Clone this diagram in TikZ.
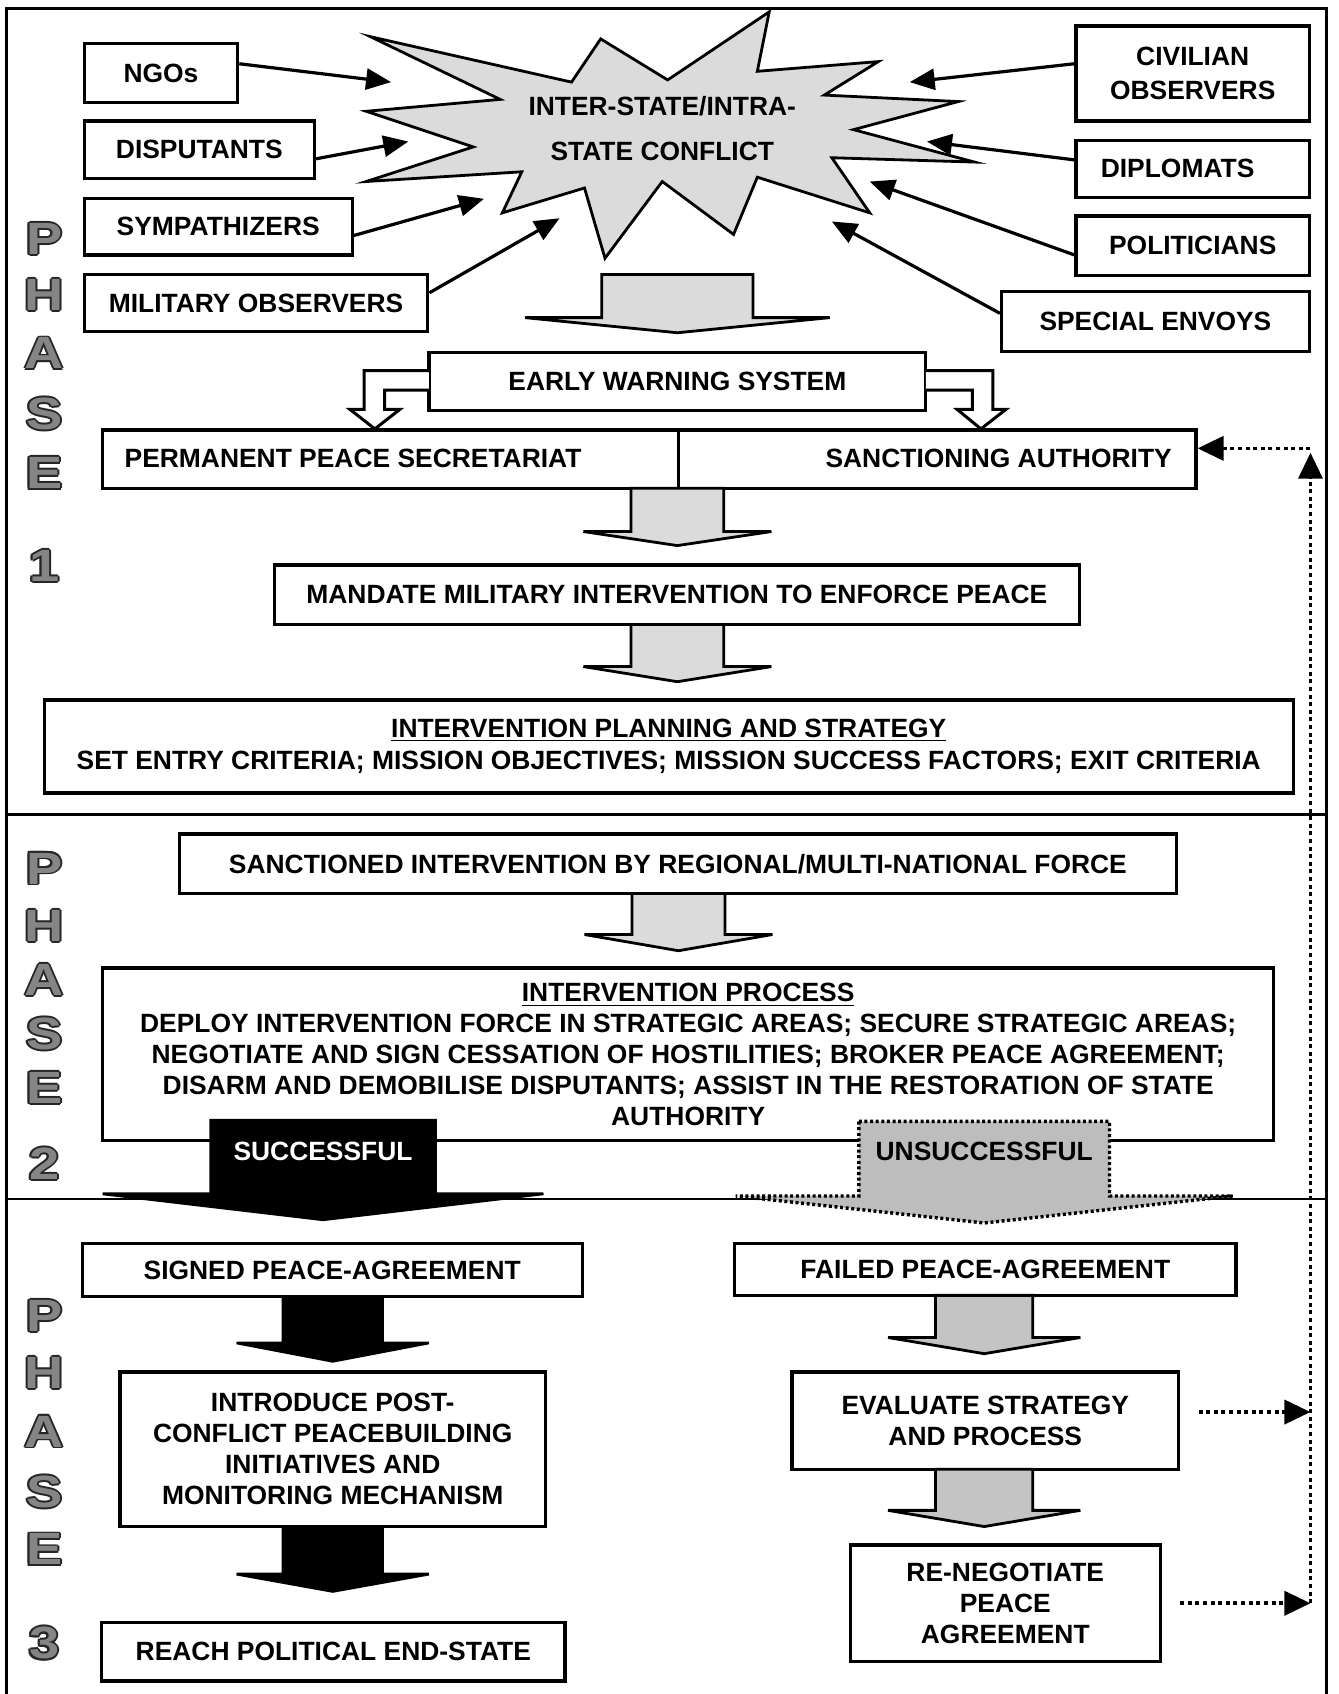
\documentclass[tikz,border=0pt]{standalone}
\usepackage{fontspec}
\setmainfont{Liberation Sans}
\usepackage{graphicx}
\usetikzlibrary{arrows.meta,calc}
\definecolor{starfill}{gray}{0.86}
\definecolor{arrowfill}{gray}{0.86}
\definecolor{arrowfillB}{gray}{0.77}
\definecolor{unsfill}{gray}{0.74}
\definecolor{phfill}{gray}{0.52}
\definecolor{phline}{gray}{0.15}
\newcommand\dgtxt{\fontsize{13.2}{15.5}\selectfont\bfseries}
\newcommand\phfont{\fontsize{22.6}{24}\selectfont\bfseries}
\newcommand\blockarr[7]{\path[#1] (#2-#6,#3) -- (#2+#6,#3) -- (#2+#6,#4) -- (#2+#7,#4) -- (#2,#5) -- (#2-#7,#4) -- (#2-#6,#4) -- cycle;}
\newcommand\phletter[4]{%
 \foreach \a in {0,45,...,315}{\node[phout] (#1o\a) at ($(#2,#3)+(\a:0.9pt)$) {\scalebox{1.2}[1]{#4}};}%
 \node[phin] (#1) at (#2,#3) {\scalebox{1.2}[1]{#4}};}
\newcommand\bx[7][]{\node[box,minimum width={(#5-#3)*0.54pt},minimum height={(#6-#4)*0.54pt},#1] (#2) at ({(#3+#5)/2},{(#4+#6)/2}) {#7};}
\begin{document}
\begin{tikzpicture}[x=0.54pt,y=-0.54pt,
 box/.style={draw,line width=1.6pt,fill=white,inner sep=0pt,align=center,font=\dgtxt},
 txt/.style={inner sep=0pt,align=center,font=\dgtxt},
 conn/.style={line width=1.6pt,-{Triangle[length=12.5pt,width=10.5pt]}},
 hollow/.style={draw,line width=1.5pt,fill=white},
 garrow/.style={draw,line width=1.4pt,fill=arrowfill},
 darrow/.style={draw,line width=1.4pt,fill=arrowfillB},
 barrow/.style={draw,line width=1.4pt,fill=black},
 uarrow/.style={draw,line width=1.7pt,fill=unsfill,dash pattern=on 1.5pt off 1.3pt},
 fbline/.style={line width=1.8pt,dash pattern=on 2pt off 1.8pt,-{Triangle[length=13pt,width=12pt]}},
 phout/.style={inner sep=0pt,font=\phfont,text=phline},
 phin/.style={inner sep=0pt,font=\phfont,text=phfill},
]
\fill[white] (0,0) rectangle (1239,1568);
\useasboundingbox (0,0) rectangle (1239,1568);
% frame and phase dividers
\draw[line width=1.2pt] (6,1580) -- (6,8) -- (1228,8) -- (1228,1580);
\draw[line width=1.2pt] (6,754) -- (1228,754);
\draw[line width=1.2pt] (6,1110) -- (1228,1110);

% phase letters
\phletter{pa1}{41}{221}{P}
\phletter{pa2}{41}{273}{H}
\phletter{pa3}{41}{327}{A}
\phletter{pa4}{41}{383}{S}
\phletter{pa5}{41}{438}{E}
\phletter{pa6}{41}{524}{1}
\phletter{pb1}{41}{804}{P}
\phletter{pb2}{41}{857}{H}
\phletter{pb3}{41}{907}{A}
\phletter{pb4}{41}{957}{S}
\phletter{pb5}{41}{1007}{E}
\phletter{pb6}{41}{1077}{2}
\phletter{pc1}{41}{1218}{P}
\phletter{pc2}{41}{1271}{H}
\phletter{pc3}{41}{1325}{A}
\phletter{pc4}{41}{1381}{S}
\phletter{pc5}{41}{1434}{E}
\phletter{pc6}{41}{1521}{3}

% star
\filldraw[fill=starfill,line width=1.4pt] (343,34) -- (529,76) -- (556,36) -- (618,74) -- (712,11) -- (701,66) -- (813,57) -- (763,88) -- (887,94) -- (790,120) -- (902,150) -- (770,146) -- (805,197) -- (701,164) -- (679,217) -- (613,168) -- (560,239) -- (541,174) -- (465,197) -- (483,159) -- (339,168) -- (438,136) -- (339,103) -- (463,92) -- cycle;
\node[txt,font=\fontsize{13.2}{22.7}\selectfont\bfseries] (conflict) at (613,119) {INTER-STATE/INTRA-\\STATE CONFLICT};

% actor boxes
\bx{ngo}{78}{40}{220}{95}{NGOs}
\bx{disp}{78}{112}{291}{165}{DISPUTANTS}
\bx{symp}{78}{184}{326}{236}{SYMPATHIZERS}
\bx{mil}{78}{254}{396}{307}{MILITARY OBSERVERS}
\bx[font=\fontsize{13.2}{16.7}\selectfont\bfseries]{civ}{996}{24}{1212}{112}{CIVILIAN\\OBSERVERS}
\bx{dipl}{996}{130}{1212}{183}{}
\node[txt] (diplt) at (1090,156) {DIPLOMATS};
\bx{pol}{996}{200}{1212}{255}{POLITICIANS}
\bx{env}{927}{270}{1212}{325}{SPECIAL ENVOYS}

% connectors to the conflict
\coordinate (tN) at (362,76);
\coordinate (tD) at (378,131);
\coordinate (tS) at (448,184);
\coordinate (tM) at (518,202);
\coordinate (tC) at (842,76);
\coordinate (tP) at (858,131);
\coordinate (tO) at (805,168);
\coordinate (tE) at (770,205);
\draw[conn] (ngo.east |- 0,59) -- (tN);
\draw[conn] (disp.east |- 0,147) -- (tD);
\draw[conn] (symp.east |- 0,218) -- (tS);
\draw[conn] (mil.east |- 0,271) -- (tM);
\draw[conn] (civ.west |- 0,59) -- (tC);
\draw[conn] (dipl.west |- 0,148) -- (tP);
\draw[conn] (pol.west |- 0,236) -- (tO);
\draw[conn] (env.west |- 0,290) -- (tE);

% phase 1 flow
\bx{ews}{397}{326}{857}{380}{EARLY WARNING SYSTEM}
\bx{pps}{95}{398}{628}{452}{}
\bx{sa}{628}{398}{1107}{452}{}
\node[txt,anchor=west] (ppst) at (115,424) {PERMANENT PEACE SECRETARIAT};
\node[txt,anchor=east] (sat) at (1085,424) {SANCTIONING AUTHORITY};
\bx{mand}{254}{523}{999}{578}{MANDATE MILITARY INTERVENTION TO ENFORCE PEACE}
\bx[font=\fontsize{13.2}{16.2}\selectfont\bfseries]{plan}{41}{648}{1197}{734}{\underline{INTERVENTION PLANNING AND STRATEGY}\\SET ENTRY CRITERIA; MISSION OBJECTIVES; MISSION SUCCESS FACTORS; EXIT CRITERIA}

\blockarr{garrow}{627}{254}{294}{308}{70}{141}
\path[hollow] (397,343) -- (337,343) -- (337,379) -- (324,379) -- (347,397) -- (370,379) -- (356,379) -- (356,361) -- (397,361);
\path[hollow] (857,343) -- (919,343) -- (919,379) -- (931,379) -- (908,397) -- (886,379) -- (900,379) -- (900,361) -- (857,361);
\blockarr{garrow}{627}{452}{492}{505}{43}{87}
\blockarr{garrow}{627}{578}{617}{631}{43}{87}

% phase 2
\bx{sanc}{166}{772}{1089}{827}{SANCTIONED INTERVENTION BY REGIONAL/MULTI-NATIONAL FORCE}
\blockarr{garrow}{628}{827}{865}{880}{43}{87}
\bx[font=\fontsize{13.2}{15.4}\selectfont\bfseries]{proc}{95}{896}{1179}{1056}{\underline{INTERVENTION PROCESS}\\DEPLOY INTERVENTION FORCE IN STRATEGIC AREAS; SECURE STRATEGIC AREAS;\\NEGOTIATE AND SIGN CESSATION OF HOSTILITIES; BROKER PEACE AGREEMENT;\\DISARM AND DEMOBILISE DISPUTANTS; ASSIST IN THE RESTORATION OF STATE\\AUTHORITY}
\blockarr{barrow}{299}{1037}{1105}{1129}{104}{204}
\node[txt,text=white] (succ) at (299,1066) {SUCCESSFUL};
\blockarr{uarrow}{911}{1038}{1107}{1132}{116}{230}
\node[txt] (unsucc) at (911,1066) {UNSUCCESSFUL};

% phase 3
\bx{signed}{76}{1151}{539}{1200}{SIGNED PEACE-AGREEMENT}
\bx{failed}{680}{1151}{1144}{1199}{FAILED PEACE-AGREEMENT}
\bx{intro}{111}{1270}{505}{1413}{INTRODUCE POST-\\CONFLICT PEACEBUILDING\\INITIATIVES AND\\MONITORING MECHANISM}
\bx{eval}{733}{1270}{1091}{1360}{EVALUATE STRATEGY\\AND PROCESS}
\bx{reneg}{787}{1430}{1074}{1538}{RE-NEGOTIATE\\PEACE\\AGREEMENT}
\bx{reach}{94}{1502}{523}{1556}{REACH POLITICAL END-STATE}
\blockarr{barrow}{308}{1200}{1243}{1260}{46}{89}
\blockarr{barrow}{308}{1413}{1457}{1473}{46}{89}
\blockarr{darrow}{911}{1199}{1238}{1253}{45}{89}
\blockarr{darrow}{911}{1360}{1398}{1413}{45}{89}

% feedback loop
\coordinate (fbBot) at (1213,1484);
\coordinate (fbMid) at (1213,1307);
\coordinate (fbUp) at (1213,419);
\coordinate (fbTop) at (1213,415);
\draw[fbline] (reneg.east |- 0,1484) ++(17,0) -- (fbBot);
\draw[fbline] (eval.east |- 0,1307) ++(17,0) -- (fbMid);
\draw[fbline] (fbBot) -- (fbUp);
\draw[fbline] (fbTop) -- (sa.east |- fbTop);
\end{tikzpicture}
\end{document}
